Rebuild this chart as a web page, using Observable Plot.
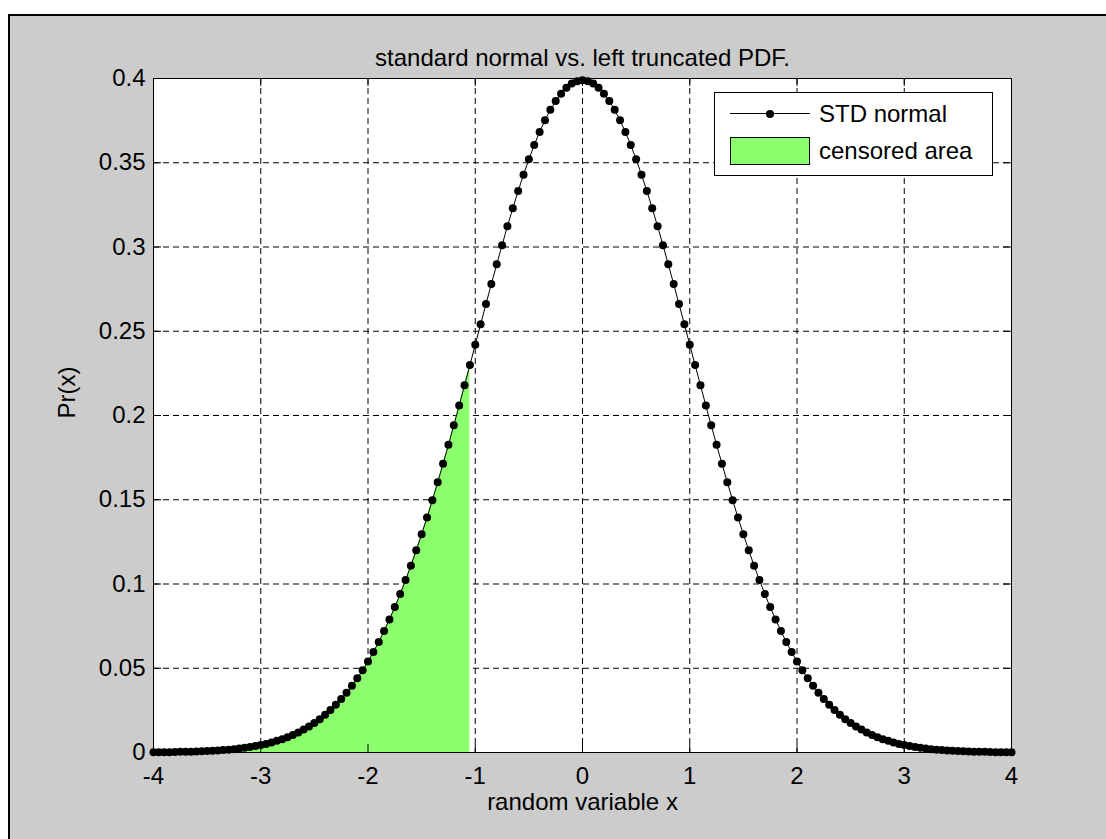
<!DOCTYPE html>
<html>
<head>
<meta charset="utf-8">
<script src="https://cdn.jsdelivr.net/npm/d3@7"></script>
<script src="https://cdn.jsdelivr.net/npm/@observablehq/plot@0.6"></script>
<style>
html, body { margin: 0; padding: 0; background: #ffffff; }
#fig { position: relative; width: 1106px; height: 839px; overflow: hidden; font-family: "Liberation Sans", Arial, Helvetica, sans-serif; }
#bg { position: absolute; left: 8px; top: 14px; width: 1200px; height: 900px; background: #cccccc; border-left: 2px solid #000; border-top: 2px solid #000; }
#chart { position: absolute; left: 0; top: 0; }
#legend { position: absolute; left: 714px; top: 92px; width: 279px; height: 84px; box-sizing: border-box; background: #fff; border: 1px solid #000; font-size: 24px; color: #000; }
#legend .line { position: absolute; left: 15px; top: 20px; width: 80px; height: 1px; background: #000; }
#legend .dot { position: absolute; left: 51px; top: 16.5px; width: 8px; height: 8px; border-radius: 50%; background: #000; }
#legend .swatch { position: absolute; left: 15px; top: 44px; width: 80px; height: 28px; box-sizing: border-box; border: 1px solid #000; }
#legend .lab { position: absolute; left: 104px; height: 28px; line-height: 28px; white-space: nowrap; }
</style>
</head>
<body>
<div id="fig">
  <div id="bg"></div>
  <div id="chart"></div>
  <div id="legend">
    <div class="line"></div><div class="dot"></div>
    <div class="lab" id="lab1" style="top:7px"></div>
    <div class="swatch" id="sw"></div>
    <div class="lab" id="lab2" style="top:44px"></div>
  </div>
</div>
<script>
// ---- data ----
const xs = [-4,-3.95,-3.9,-3.85,-3.8,-3.75,-3.7,-3.65,-3.6,-3.55,-3.5,-3.45,-3.4,-3.35,-3.3,-3.25,-3.2,-3.15,-3.1,-3.05,
  -3,-2.95,-2.9,-2.85,-2.8,-2.75,-2.7,-2.65,-2.6,-2.55,-2.5,-2.45,-2.4,-2.35,-2.3,-2.25,-2.2,-2.15,-2.1,-2.05,
  -2,-1.95,-1.9,-1.85,-1.8,-1.75,-1.7,-1.65,-1.6,-1.55,-1.5,-1.45,-1.4,-1.35,-1.3,-1.25,-1.2,-1.15,-1.1,-1.05,
  -1,-0.95,-0.9,-0.85,-0.8,-0.75,-0.7,-0.65,-0.6,-0.55,-0.5,-0.45,-0.4,-0.35,-0.3,-0.25,-0.2,-0.15,-0.1,-0.05,
  0,0.05,0.1,0.15,0.2,0.25,0.3,0.35,0.4,0.45,0.5,0.55,0.6,0.65,0.7,0.75,0.8,0.85,0.9,0.95,
  1,1.05,1.1,1.15,1.2,1.25,1.3,1.35,1.4,1.45,1.5,1.55,1.6,1.65,1.7,1.75,1.8,1.85,1.9,1.95,
  2,2.05,2.1,2.15,2.2,2.25,2.3,2.35,2.4,2.45,2.5,2.55,2.6,2.65,2.7,2.75,2.8,2.85,2.9,2.95,
  3,3.05,3.1,3.15,3.2,3.25,3.3,3.35,3.4,3.45,3.5,3.55,3.6,3.65,3.7,3.75,3.8,3.85,3.9,3.95,4];
const pr = [0.0001,0.0002,0.0002,0.0002,0.0003,0.0004,0.0004,0.0005,0.0006,0.0007,
  0.0009,0.0010,0.0012,0.0015,0.0017,0.0020,0.0024,0.0028,0.0033,0.0038,
  0.0044,0.0051,0.0060,0.0069,0.0079,0.0091,0.0104,0.0119,0.0136,0.0154,
  0.0175,0.0198,0.0224,0.0252,0.0283,0.0317,0.0355,0.0396,0.0440,0.0488,
  0.0540,0.0596,0.0656,0.0721,0.0790,0.0863,0.0940,0.1023,0.1109,0.1200,
  0.1295,0.1394,0.1497,0.1604,0.1714,0.1826,0.1942,0.2059,0.2179,0.2299,
  0.2420,0.2541,0.2661,0.2780,0.2897,0.3011,0.3123,0.3230,0.3332,0.3429,
  0.3521,0.3605,0.3683,0.3752,0.3814,0.3867,0.3910,0.3945,0.3970,0.3984,
  0.3989,
  0.3984,0.3970,0.3945,0.3910,0.3867,0.3814,0.3752,0.3683,0.3605,0.3521,
  0.3429,0.3332,0.3230,0.3123,0.3011,0.2897,0.2780,0.2661,0.2541,0.2420,
  0.2299,0.2179,0.2059,0.1942,0.1826,0.1714,0.1604,0.1497,0.1394,0.1295,
  0.1200,0.1109,0.1023,0.0940,0.0863,0.0790,0.0721,0.0656,0.0596,0.0540,
  0.0488,0.0440,0.0396,0.0355,0.0317,0.0283,0.0252,0.0224,0.0198,0.0175,
  0.0154,0.0136,0.0119,0.0104,0.0091,0.0079,0.0069,0.0060,0.0051,0.0044,
  0.0038,0.0033,0.0028,0.0024,0.0020,0.0017,0.0015,0.0012,0.0010,0.0009,
  0.0007,0.0006,0.0005,0.0004,0.0004,0.0003,0.0002,0.0002,0.0002,0.0001];
const censorFrom = -3.45;   // left end of the green area
const censorTo = -1.05;     // right end of the green area
const xTicks = [-4,-3,-2,-1,0,1,2,3,4];
const xTickLabels = ["-4","-3","-2","-1","0","1","2","3","4"];
const yTicks = [0,0.05,0.1,0.15,0.2,0.25,0.3,0.35,0.4];
const yTickLabels = ["0","0.05","0.1","0.15","0.2","0.25","0.3","0.35","0.4"];
const title = "standard normal vs. left truncated PDF.";
const xLabel = "random variable x";
const yLabel = "Pr(x)";
const seriesNames = ["STD normal", "censored area"];
const green = "#8cff6c";

// ---- chart ----
const W = 1106, H = 839, mL = 153, mR = 95, mT = 78, mB = 87;
const innerW = W - mL - mR, innerH = H - mT - mB;
const data = xs.map((x, i) => ({x, y: pr[i]}));
const censored = data.filter(d => d.x >= censorFrom - 1e-9 && d.x <= censorTo + 1e-9);
const xLab = new Map(xTicks.map((t, i) => [t, xTickLabels[i]]));
const yLab = new Map(yTicks.map((t, i) => [t, yTickLabels[i]]));
const grid = {stroke: "#000", strokeWidth: 1, strokeDasharray: "6,4"};
const tickLen = 8;

const chart = Plot.plot({
  width: W, height: H,
  marginLeft: mL, marginRight: mR, marginTop: mT, marginBottom: mB,
  style: {background: "transparent", fontFamily: "'Liberation Sans', Arial, Helvetica, sans-serif", fontSize: "24px", color: "#000", overflow: "visible"},
  x: {domain: [-4, 4], ticks: xTicks, tickFormat: d => xLab.get(d), tickSize: 0, tickPadding: 14, label: null},
  y: {domain: [0, 0.4], ticks: yTicks, tickFormat: d => yLab.get(d), tickSize: 0, tickPadding: 8, label: null},
  marks: [
    Plot.frame({fill: "white"}),
    Plot.ruleX(xTicks, {x: d => d, ...grid}),
    Plot.ruleY(yTicks, {y: d => d, ...grid}),
    Plot.areaY(censored, {x: "x", y: "y", fill: green}),
    Plot.tickX(xTicks, {x: d => d, stroke: "#000", insetBottom: innerH - tickLen}),
    Plot.tickX(xTicks, {x: d => d, stroke: "#000", insetTop: innerH - tickLen}),
    Plot.tickY(yTicks, {y: d => d, stroke: "#000", insetRight: innerW - tickLen}),
    Plot.tickY(yTicks, {y: d => d, stroke: "#000", insetLeft: innerW - tickLen}),
    Plot.line(data, {x: "x", y: "y", stroke: "#000", strokeWidth: 1}),
    Plot.dot(data, {x: "x", y: "y", r: 4, fill: "#000", stroke: "none"}),
    Plot.frame({stroke: "#000"}),
    Plot.text([title], {text: d => d, frameAnchor: "top", dy: -30}),
    Plot.text([xLabel], {text: d => d, frameAnchor: "bottom", dy: 57}),
    Plot.text([yLabel], {text: d => d, frameAnchor: "left", dx: -86, dy: 3, rotate: -90})
  ]
});
document.getElementById("chart").appendChild(chart);
document.getElementById("lab1").textContent = seriesNames[0];
document.getElementById("lab2").textContent = seriesNames[1];
document.getElementById("sw").style.background = green;
</script>
</body>
</html>
